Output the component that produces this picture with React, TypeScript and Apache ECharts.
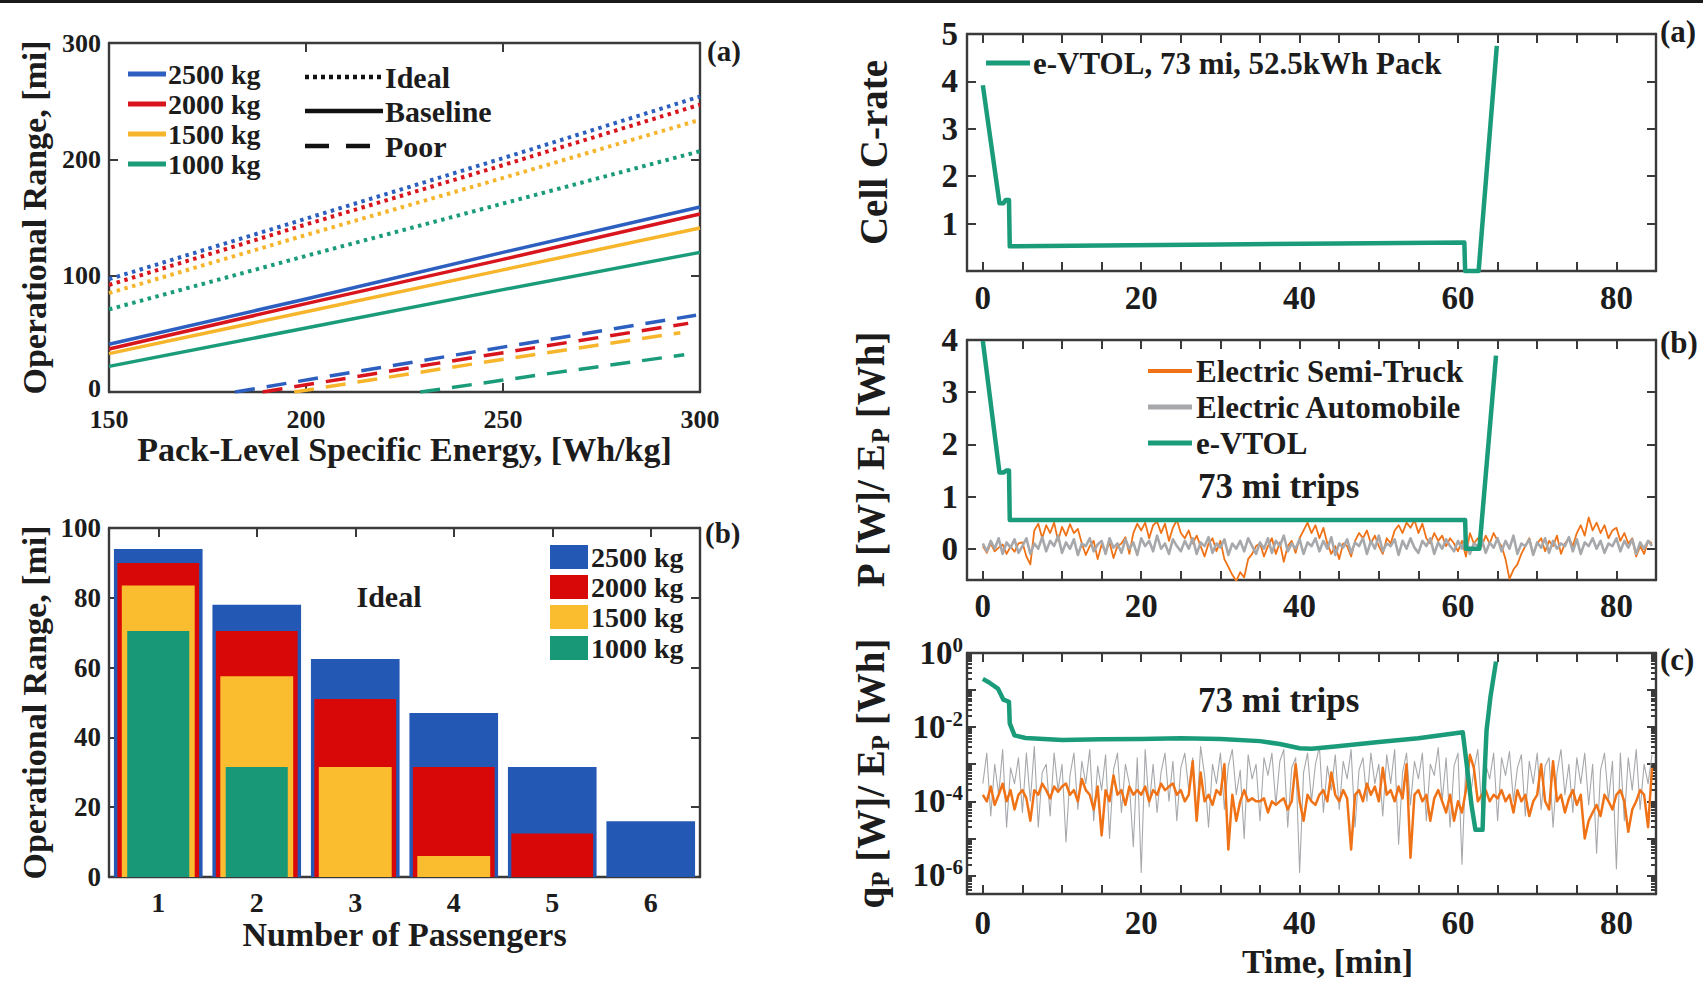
import React, { useEffect, useRef } from "react";
import * as echarts from "echarts";

const W = 1703;
const H = 982;
const SERIF = "Liberation Serif";
const INK = "#1c1c1c";
const AXC = "#3a3a3a";

const BLUE = "#2c5fbf";
const RED = "#d8141c";
const YELLOW = "#f7b52c";
const GREEN = "#1a9c7a";
const BAR_BLUE = "#2458b5";
const BAR_RED = "#d90808";
const BAR_YELLOW = "#fbbd30";
const BAR_GREEN = "#199877";
const TEAL = "#1a9c7b";
const ORANGE = "#f07216";
const GRAY = "#a6a8ab";

// ---------- Left top: range vs specific energy ----------
const energyX = [150, 200, 250, 300];
const ideal2500 = [97, 149, 201, 254];
const ideal2000 = [92, 144, 195, 247];
const ideal1500 = [85, 135, 184, 234];
const ideal1000 = [71, 117, 162, 207];
const base2500 = [41, 80, 120, 159];
const base2000 = [37, 76, 114, 153];
const base1500 = [33, 69, 105, 141];
const base1000 = [22, 55, 88, 120];
const poorX2500 = [182, 240, 299];
const poor2500 = [0, 33, 66];
const poorX2000 = [189, 243, 297];
const poor2000 = [0, 30, 59];
const poorX1500 = [197, 246, 295];
const poor1500 = [0, 26, 51];
const poorX1000 = [229, 262, 296];
const poor1000 = [0, 16, 32];
const massLabels = ["2500 kg", "2000 kg", "1500 kg", "1000 kg"];
const styleLabels = ["Ideal", "Baseline", "Poor"];

// ---------- Left bottom: range vs passengers ----------
const passengers = ["1", "2", "3", "4", "5", "6"];
const bar2500 = [94, 78, 62.5, 47, 31.5, 16];
const bar2000 = [90, 70.5, 51, 31.5, 12.5, null];
const bar1500 = [83.5, 57.5, 31.5, 6, null, null];
const bar1000 = [70.5, 31.5, null, null, null, null];

// ---------- Right (a): cell C-rate ----------
const tCrate = [0, 2.1, 2.6, 2.9, 3.3, 3.4, 15, 30, 45, 60.8, 60.9, 62.6, 64.9];
const crate = [3.92, 1.43, 1.43, 1.5, 1.5, 0.52, 0.54, 0.56, 0.58, 0.6, 0, 0, 4.75];

// ---------- Right (b): normalised power ----------
const tPower = [0, 2.1, 2.6, 3.0, 3.3, 3.4, 60.9, 61.0, 62.7, 64.8];
const vtolPower = [3.98, 1.46, 1.46, 1.5, 1.5, 0.55, 0.55, 0, 0, 3.7];
const NOISE_STEP = 0.5; // minutes between samples of the truck / automobile traces
const truckPower = [
  0.05, -0.08, 0.1, -0.05, 0.02, 0.08, -0.1, 0.04, -0.06, 0.1,
  0.12, -0.15, -0.3, 0.35, 0.48, 0.2, 0.45, 0.3, 0.5, 0.15,
  0.42, 0.25, 0.47, 0.3, 0.38, 0.1, -0.12, 0.05, 0.15, -0.2,
  0.08, -0.05, 0.12, -0.18, 0.05, 0.1, 0.22, -0.1, 0.3, 0.48,
  0.35, 0.5, 0.2, 0.45, 0.52, 0.3, 0.48, 0.15, 0.4, 0.55,
  0.3, 0.2, 0.35, 0.1, 0.25, 0.05, -0.15, 0.1, 0.2, -0.05,
  0.15, -0.2, -0.35, -0.5, -0.62, -0.45, -0.55, -0.2, -0.1, 0.05,
  0.1, -0.15, 0.05, 0.2, -0.1, 0.12, -0.25, 0.05, 0.15, -0.08,
  0.2, 0.35, 0.5, 0.3, 0.45, 0.2, 0.4, 0.1, -0.1, 0.05,
  -0.2, 0.1, 0.05, -0.15, 0.15, 0.3, 0.2, 0.35, 0.1, 0.25,
  0.05, -0.1, 0.2, 0.1, 0.35, 0.45, 0.3, 0.5, 0.4, 0.55,
  0.3, 0.48, 0.2, 0.1, 0.3, 0.15, 0.25, 0.05, 0.2, 0.1,
  -0.05, 0.15, -0.15, 0.3, 0.1, 0.2, 0.05, 0.25, 0.1, 0.3,
  0.15, 0.05, -0.2, -0.58, -0.4, -0.3, -0.1, 0.05, 0.2, -0.1,
  0.1, 0.2, -0.05, 0.15, 0.05, 0.25, -0.1, 0.1, 0.2, 0.05,
  0.3, 0.45, 0.25, 0.6, 0.35, 0.5, 0.3, 0.45, 0.2, 0.35,
  0.4, 0.15, 0.3, 0.1, 0.2, -0.15, 0.05, -0.1, 0.15, 0.1,
];
const carPower = [
  0.1, -0.05, 0.15, 0.0, 0.2, -0.1, 0.12, 0.02, 0.18, -0.08,
  0.05, 0.2, -0.1, 0.1, 0.0, 0.22, -0.05, 0.15, 0.05, 0.25,
  -0.08, 0.12, 0.0, 0.18, -0.12, 0.1, 0.05, 0.2, -0.05, 0.08,
  0.15, -0.1, 0.2, 0.02, 0.1, -0.08, 0.18, 0.0, 0.12, -0.12,
  0.2, 0.05, 0.15, -0.05, 0.25, 0.0, 0.1, -0.1, 0.18, 0.05,
  -0.05, 0.15, 0.0, 0.2, -0.1, 0.12, 0.05, 0.22, -0.08, 0.1,
  0.02, 0.18, -0.12, 0.1, 0.0, 0.15, -0.05, 0.2, 0.05, -0.1,
  0.12, 0.0, 0.2, -0.08, 0.15, 0.05, 0.25, -0.05, 0.1, 0.0,
  0.18, -0.1, 0.12, 0.05, 0.2, -0.05, 0.15, 0.0, 0.22, -0.12,
  0.1, 0.02, 0.18, -0.08, 0.12, 0.05, 0.2, -0.1, 0.15, 0.0,
  0.25, -0.05, 0.1, 0.05, 0.18, -0.12, 0.15, 0.0, 0.2, 0.02,
  -0.08, 0.15, 0.05, 0.2, -0.1, 0.12, 0.0, 0.18, 0.05, -0.05,
  0.15, 0.0, 0.22, -0.1, 0.1, 0.05, 0.18, -0.08, 0.12, 0.02,
  0.2, -0.05, 0.15, 0.0, 0.25, -0.1, 0.1, 0.05, 0.18, -0.12,
  0.12, 0.02, 0.2, -0.08, 0.15, 0.0, 0.1, 0.05, 0.22, -0.05,
  0.18, -0.1, 0.12, 0.05, 0.2, 0.0, 0.15, -0.08, 0.1, 0.05,
  0.2, -0.05, 0.15, 0.02, 0.18, -0.1, 0.12, 0.0, 0.15, 0.05,
];

// ---------- Right (c): heat (log scale) ----------
const tHeat = [0, 0.8, 1.9, 2.6, 3.3, 3.4, 4, 5.4, 10, 15, 20, 25, 30, 35, 37.5, 40, 41.5, 44.5, 50, 55, 60.6, 61.2, 61.7, 62.2, 63.1, 63.3, 63.6, 64.1, 64.8];
const vtolHeat = [0.2, 0.16, 0.11, 0.055, 0.048, 0.0126, 0.006, 0.0051, 0.0045, 0.0047, 0.0048, 0.005, 0.0048, 0.0042, 0.0035, 0.0027, 0.0026, 0.003, 0.004, 0.005, 0.0073, 0.00066, 0.00008, 0.000017, 0.000017, 0.0003, 0.008, 0.066, 0.59];
const truckHeat = [
  1.5e-4, 1e-4, 2.5e-4, 8e-5, 1.5e-4, 3e-4, 1e-4, 2e-4, 6e-5, 1.5e-4,
  2e-4, 1.2e-4, 3e-5, 2e-4, 1.5e-4, 3e-4, 2e-4, 1.2e-4, 2.5e-4, 1.8e-4,
  2.5e-4, 3e-4, 1.5e-4, 2e-4, 1e-4, 4e-4, 2e-4, 1.5e-4, 6e-5, 2.5e-4,
  1.2e-5, 2e-4, 1e-4, 5e-4, 1.5e-4, 2e-4, 8e-5, 2.5e-4, 1.5e-4, 2e-4,
  1.5e-4, 2.5e-4, 1e-4, 2e-4, 1.5e-4, 3e-4, 2e-4, 2.5e-4, 3e-4, 1.5e-4,
  2e-4, 1e-4, 1.5e-4, 1.2e-3, 3e-5, 6e-4, 1e-4, 1.5e-4, 8e-5, 2e-4,
  1.5e-4, 1e-3, 5e-6, 1.5e-4, 3e-5, 1e-4, 2e-4, 1e-4, 1.2e-4, 1e-4,
  1e-4, 1.2e-4, 5e-5, 1e-4, 8e-5, 1e-4, 1.2e-4, 6e-5, 1e-4, 1e-3,
  1e-4, 3e-5, 1.5e-4, 1e-4, 8e-5, 1.5e-4, 2e-4, 1e-4, 6e-4, 1.5e-4,
  1e-4, 2e-4, 1.2e-4, 5e-6, 1.5e-4, 2e-4, 1e-4, 3e-4, 1.5e-4, 2.5e-4,
  1e-4, 8e-4, 1.5e-4, 2e-4, 1e-4, 2.5e-4, 1.2e-4, 1e-3, 3e-6, 1.5e-4,
  2e-4, 1e-4, 1.5e-4, 3e-5, 1.2e-4, 2e-4, 1e-4, 5e-5, 1.5e-4, 3e-5,
  1e-4, 5e-5, 2e-4, 1.8e-3, 8e-4, 1e-4, 1.5e-4, 2e-4, 1e-4, 1.5e-4,
  1.2e-4, 2e-4, 1e-4, 1.5e-4, 5e-5, 2e-4, 1e-4, 1.5e-4, 4e-5, 1e-4,
  1.5e-4, 1e-3, 1e-4, 6e-5, 1.2e-3, 1e-4, 1.5e-4, 5e-5, 1.2e-4, 2e-4,
  8e-5, 1.5e-4, 1e-5, 3e-5, 5e-5, 8e-5, 4e-5, 1.5e-4, 1e-4, 6e-5,
  1.5e-4, 2e-4, 1e-4, 1.5e-5, 6e-5, 1e-4, 2e-4, 1.5e-4, 2e-5, 8e-4,
];
const carHeat = [
  3e-4, 2e-3, 4e-5, 1e-3, 1.5e-4, 2.5e-3, 2e-5, 8e-4, 3e-4, 1.5e-3,
  5e-5, 2e-3, 1e-4, 3e-3, 2e-5, 6e-4, 1e-3, 4e-5, 2e-3, 2e-4,
  1e-3, 8e-6, 5e-4, 2e-3, 6e-5, 1.2e-3, 3e-4, 2.5e-3, 3e-5, 9e-4,
  2e-4, 1.8e-3, 1e-5, 7e-4, 2e-3, 5e-5, 1e-3, 3e-4, 6e-6, 1.5e-3,
  1.2e-6, 2.5e-3, 7e-5, 1e-3, 5e-5, 6e-4, 2e-3, 1e-4, 1.2e-3, 3e-5,
  8e-4, 2e-3, 2e-4, 1.5e-3, 4e-5, 3e-3, 5e-4, 2e-5, 1e-3, 3e-4,
  2e-3, 6e-5, 9e-4, 2.5e-3, 1.5e-4, 7e-4, 1e-5, 1.8e-3, 4e-4, 1e-3,
  3e-5, 1.5e-3, 5e-4, 2e-3, 8e-5, 1.2e-3, 2.5e-3, 2e-5, 8e-4, 1.5e-3,
  1.2e-6, 6e-4, 2e-3, 1e-4, 1e-3, 3e-3, 5e-5, 9e-4, 2e-4, 1.8e-3,
  6e-5, 1.2e-3, 4e-4, 2.5e-3, 2e-5, 7e-4, 1.5e-3, 1e-4, 2e-3, 3e-4,
  1e-3, 4e-5, 1.8e-3, 3e-4, 2.5e-3, 7e-6, 6e-4, 2e-3, 8e-5, 1.2e-3,
  4e-4, 2e-3, 3e-5, 1e-3, 5e-4, 2.8e-3, 1e-4, 1.5e-3, 2e-5, 9e-4,
  2e-3, 2e-6, 1.2e-3, 1e-4, 7e-4, 2.5e-3, 6e-5, 1e-3, 4e-4, 2e-3,
  3e-5, 1.5e-3, 5e-4, 2.2e-3, 1e-4, 8e-4, 1.8e-3, 4e-5, 1.2e-3, 3e-4,
  2e-3, 6e-5, 9e-4, 1.5e-3, 2e-5, 6e-4, 2.5e-3, 1.5e-4, 1e-3, 5e-5,
  1.5e-3, 3e-4, 2e-3, 8e-5, 1e-3, 4e-6, 7e-4, 2e-3, 1e-4, 1.2e-3,
  1.5e-6, 2e-3, 3e-5, 1.5e-3, 2e-4, 2.5e-3, 6e-5, 1e-3, 3e-4, 1.8e-3,
];
const powerLegend = ["Electric Semi-Truck", "Electric Automobile", "e-VTOL"];

// ---------- tick positions ----------
const timeTicks: number[] = [];
for (let v = 0; v <= 85; v += 5) timeTicks.push(v);
const timeLabels = [0, 20, 40, 60, 80];
const decadeTicks = [-6, -5, -4, -3, -2, -1, 0];
const decadeLabels = [-6, -4, -2, 0];
const minorLogTicks: number[] = [];
for (let n = -7; n < 0; n++) {
  for (let k = 2; k <= 9; k++) {
    const v = n + Math.log10(k);
    if (v > -6.5 && v < 0) minorLogTicks.push(v);
  }
}

const lineCommon = { show: true, onZero: false, lineStyle: { color: AXC, width: 2.4 } };
const tickCommon = { show: true, inside: true, length: 9, lineStyle: { color: AXC, width: 2 } };
const fontBase = { fontFamily: SERIF, fontWeight: "bold" as const, color: INK };

function vAxis(o: any) {
  return {
    type: "value",
    gridIndex: o.grid,
    position: o.pos,
    min: o.min,
    max: o.max,
    axisLine: o.noLine ? { show: false, onZero: false } : lineCommon,
    axisTick: o.ticks
      ? { ...tickCommon, length: o.tickLen ?? 9, customValues: o.ticks }
      : { show: false },
    axisLabel: o.labels
      ? {
          show: true,
          ...fontBase,
          fontSize: o.size,
          lineHeight: o.lh,
          margin: o.margin,
          customValues: o.labels,
          formatter: o.fmt,
          rich: o.rich,
        }
      : { show: false },
    splitLine: { show: false },
    name: o.name,
    nameLocation: "middle",
    nameGap: o.gap,
    nameTextStyle: o.name
      ? { ...fontBase, fontSize: o.nameSize, rich: o.nameRich, padding: o.namePad }
      : undefined,
  };
}

function catAxis(o: any) {
  return {
    type: "category",
    gridIndex: o.grid,
    position: o.pos,
    data: passengers,
    boundaryGap: true,
    axisLine: o.showLine ? lineCommon : { show: false, onZero: false },
    axisTick: o.ticks ? { ...tickCommon, alignWithLabel: true } : { show: false },
    axisLabel: o.labels ? { show: true, ...fontBase, fontSize: 28, margin: 11 } : { show: false },
    splitLine: { show: false },
    name: o.name,
    nameLocation: "middle",
    nameGap: o.gap,
    nameTextStyle: o.name ? { ...fontBase, fontSize: 34 } : undefined,
  };
}

const subRich = {
  n: { ...fontBase, fontSize: 39, lineHeight: 46 },
  s: { ...fontBase, fontSize: 25, lineHeight: 16, verticalAlign: "bottom" },
};
const supRich = {
  b: { ...fontBase, fontSize: 33, lineHeight: 38 },
  s: { ...fontBase, fontSize: 21, lineHeight: 16, verticalAlign: "top" },
};
// the "0" at the corner of panel (a) is lifted a little so it clears the "150" below it
const cornerRich = {
  z: { ...fontBase, fontSize: 26, lineHeight: 22, padding: [0, 0, 8, 0] },
};

function lineSeries(xi: number, yi: number, data: any[], color: string, width: number, dash?: any, z = 2, clip = true) {
  return {
    type: "line",
    xAxisIndex: xi,
    yAxisIndex: yi,
    data,
    showSymbol: false,
    symbol: "none",
    silent: true,
    clip,
    z,
    lineStyle: { color, width, type: dash || "solid", cap: "butt", join: "round" },
  };
}

function pairs(xs: number[], ys: number[]) {
  return xs.map((x, i) => [x, ys[i]]);
}

function buildOption() {
  const DOT = [3.5, 4.5];
  const DASH = [20, 12];
  const noiseT = (i: number) => i * NOISE_STEP;

  const series: any[] = [
    // top-left
    lineSeries(0, 0, pairs(energyX, ideal1000), GREEN, 4, DOT),
    lineSeries(0, 0, pairs(energyX, ideal1500), YELLOW, 4, DOT),
    lineSeries(0, 0, pairs(energyX, ideal2000), RED, 4, DOT),
    lineSeries(0, 0, pairs(energyX, ideal2500), BLUE, 4, DOT),
    lineSeries(0, 0, pairs(energyX, base1000), GREEN, 3.5),
    lineSeries(0, 0, pairs(energyX, base1500), YELLOW, 3.5),
    lineSeries(0, 0, pairs(energyX, base2000), RED, 3.5),
    lineSeries(0, 0, pairs(energyX, base2500), BLUE, 3.5),
    lineSeries(0, 0, pairs(poorX1000, poor1000), GREEN, 3.5, DASH),
    lineSeries(0, 0, pairs(poorX1500, poor1500), YELLOW, 3.5, DASH),
    lineSeries(0, 0, pairs(poorX2000, poor2000), RED, 3.5, DASH),
    lineSeries(0, 0, pairs(poorX2500, poor2500), BLUE, 3.5, DASH),
    // bottom-left bars
    { type: "bar", xAxisIndex: 2, yAxisIndex: 2, data: bar2500, barWidth: "90%", itemStyle: { color: BAR_BLUE }, silent: true, z: 2 },
    { type: "bar", xAxisIndex: 3, yAxisIndex: 2, data: bar2000, barWidth: "83%", itemStyle: { color: BAR_RED }, silent: true, z: 3 },
    { type: "bar", xAxisIndex: 4, yAxisIndex: 2, data: bar1500, barWidth: "74%", itemStyle: { color: BAR_YELLOW }, silent: true, z: 4 },
    { type: "bar", xAxisIndex: 5, yAxisIndex: 2, data: bar1000, barWidth: "63%", itemStyle: { color: BAR_GREEN }, silent: true, z: 5 },
    // right (a)
    lineSeries(7, 4, pairs(tCrate, crate), TEAL, 4.5, undefined, 3, false),
    // right (b)
    lineSeries(9, 6, truckPower.map((v, i) => [noiseT(i), v]), ORANGE, 1.8),
    lineSeries(9, 6, carPower.map((v, i) => [noiseT(i), v]), GRAY, 2.6),
    lineSeries(9, 6, pairs(tPower, vtolPower), TEAL, 4.5, undefined, 3, false),
    // right (c)
    lineSeries(11, 8, carHeat.map((v, i) => [noiseT(i), Math.log10(v)]), GRAY, 1.1),
    lineSeries(11, 8, truckHeat.map((v, i) => [noiseT(i), Math.log10(v)]), ORANGE, 2.5),
    lineSeries(11, 8, tHeat.map((t, i) => [t, Math.log10(vtolHeat[i])]), TEAL, 4.5, undefined, 3, false),
  ];

  const xAxis = [
    vAxis({ grid: 0, pos: "bottom", min: 150, max: 300, ticks: [200, 250], labels: [150, 200, 250, 300], size: 26, lh: 22, margin: 16, name: "Pack-Level Specific Energy, [Wh/kg]", nameSize: 34, gap: 36 }),
    vAxis({ grid: 0, pos: "top", min: 150, max: 300, ticks: [200, 250] }),
    catAxis({ grid: 1, pos: "bottom", showLine: true, labels: true, ticks: true, name: "Number of Passengers", gap: 40 }),
    catAxis({ grid: 1, pos: "bottom" }),
    catAxis({ grid: 1, pos: "bottom" }),
    catAxis({ grid: 1, pos: "bottom" }),
    catAxis({ grid: 1, pos: "top", showLine: true, ticks: true }),
    vAxis({ grid: 2, pos: "bottom", min: -2, max: 85, ticks: timeTicks, labels: timeLabels, size: 33, margin: 10 }),
    vAxis({ grid: 2, pos: "top", min: -2, max: 85, ticks: timeTicks }),
    vAxis({ grid: 3, pos: "bottom", min: -2, max: 85, ticks: timeTicks, labels: timeLabels, size: 33, margin: 9 }),
    vAxis({ grid: 3, pos: "top", min: -2, max: 85, ticks: timeTicks }),
    vAxis({ grid: 4, pos: "bottom", min: -2, max: 85, ticks: timeTicks, labels: timeLabels, size: 33, margin: 12, name: "Time, [min]", nameSize: 34, namePad: [0, 0, 0, 32], gap: 50 }),
    vAxis({ grid: 4, pos: "top", min: -2, max: 85, ticks: timeTicks }),
  ];

  const yAxis = [
    vAxis({
      grid: 0, pos: "left", min: 0, max: 300, ticks: [100, 200], labels: [0, 100, 200, 300], size: 26, lh: 22, margin: 8,
      fmt: (v: number) => (v === 0 ? "{z|0}" : String(v)), rich: cornerRich,
      name: "Operational Range, [mi]", nameSize: 34, gap: 58,
    }),
    vAxis({ grid: 0, pos: "right", min: 0, max: 300, ticks: [100, 200] }),
    vAxis({ grid: 1, pos: "left", min: 0, max: 100, ticks: [20, 40, 60, 80], labels: [0, 20, 40, 60, 80, 100], size: 27, lh: 22, margin: 8, name: "Operational Range, [mi]", nameSize: 34, gap: 58 }),
    vAxis({ grid: 1, pos: "right", min: 0, max: 100, ticks: [20, 40, 60, 80] }),
    vAxis({ grid: 2, pos: "left", min: 0, max: 5, ticks: [1, 2, 3, 4], labels: [1, 2, 3, 4, 5], size: 33, margin: 9, name: "Cell C-rate", nameSize: 39, gap: 74 }),
    vAxis({ grid: 2, pos: "right", min: 0, max: 5, ticks: [1, 2, 3, 4] }),
    vAxis({ grid: 3, pos: "left", min: -0.6, max: 4, ticks: [0, 1, 2, 3], labels: [0, 1, 2, 3, 4], size: 33, margin: 9, name: "{n|P [W]/ E}{s|P}{n| [Wh]}", nameSize: 39, nameRich: subRich, gap: 74 }),
    vAxis({ grid: 3, pos: "right", min: -0.6, max: 4, ticks: [0, 1, 2, 3] }),
    vAxis({
      grid: 4, pos: "left", min: -6.5, max: 0, ticks: decadeTicks, labels: decadeLabels, size: 33, margin: 4,
      fmt: (v: number) => `{b|10}{s|${v}}`, rich: supRich,
      name: "{n|q}{s|P}{n| [W]/ E}{s|P}{n| [Wh]}", nameSize: 39, nameRich: subRich, gap: 74,
    }),
    vAxis({ grid: 4, pos: "right", min: -6.5, max: 0, ticks: decadeTicks }),
    vAxis({ grid: 4, pos: "left", min: -6.5, max: 0, ticks: minorLogTicks, tickLen: 5, noLine: true }),
    vAxis({ grid: 4, pos: "right", min: -6.5, max: 0, ticks: minorLogTicks, tickLen: 5, noLine: true }),
  ];

  const txt = (x: number, y: number, text: string, size: number, align = "left") => ({
    type: "text",
    x,
    y,
    z: 10,
    silent: true,
    style: { text, fontFamily: SERIF, fontWeight: "bold", fontSize: size, fill: INK, align, verticalAlign: "middle" },
  });
  const seg = (x1: number, y1: number, x2: number, y2: number, stroke: string, lineWidth: number, lineDash?: number[]) => ({
    type: "line",
    z: 10,
    silent: true,
    shape: { x1, y1, x2, y2 },
    style: { stroke, lineWidth, lineDash },
  });
  const box = (x: number, y: number, w: number, h: number, fill: string) => ({
    type: "rect",
    z: 10,
    silent: true,
    shape: { x, y, width: w, height: h },
    style: { fill },
  });

  const massColors = [BLUE, RED, YELLOW, GREEN];
  const barColors = [BAR_BLUE, BAR_RED, BAR_YELLOW, BAR_GREEN];
  const massRows = [74, 104, 134, 164];
  const styleRows = [77, 111, 146];
  const barRows = [545, 575, 605, 636];
  const powerRows = [371, 407, 443];
  const powerColors = [ORANGE, GRAY, TEAL];
  const powerWidths = [4, 5, 5];

  const graphic: any[] = [
    box(0, 0, W, 3, "#1a1a1a"),
    ...massLabels.flatMap((m, i) => [seg(128, massRows[i], 166, massRows[i], massColors[i], 5), txt(168, massRows[i], m, 28)]),
    seg(305, styleRows[0], 383, styleRows[0], "#111", 4.5, [4, 4]),
    seg(305, styleRows[1], 383, styleRows[1], "#111", 4.5),
    seg(305, styleRows[2], 370, styleRows[2], "#111", 4.5, [24, 17]),
    ...styleLabels.map((s, i) => txt(385, styleRows[i], s, 30)),
    txt(707, 51, "(a)", 29),
    ...massLabels.flatMap((m, i) => [box(550, barRows[i], 38, 24, barColors[i]), txt(591, barRows[i] + 12, m, 28)]),
    txt(389, 596, "Ideal", 30, "center"),
    txt(705, 533, "(b)", 29),
    seg(986, 63, 1030, 63, TEAL, 5),
    txt(1033, 63, "e-VTOL, 73 mi, 52.5kWh Pack", 31),
    ...powerLegend.flatMap((p, i) => [seg(1148, powerRows[i], 1192, powerRows[i], powerColors[i], powerWidths[i]), txt(1196, powerRows[i], p, 31)]),
    txt(1198, 486, "73 mi trips", 35),
    txt(1198, 700, "73 mi trips", 35),
    txt(1660, 31, "(a)", 31),
    txt(1660, 342, "(b)", 31),
    txt(1660, 659, "(c)", 31),
  ];

  const grids = [
    { left: 109, top: 43, width: 591, height: 349 },
    { left: 109, top: 528, width: 591, height: 349 },
    { left: 967, top: 34, width: 689, height: 237 },
    { left: 967, top: 340, width: 689, height: 240 },
    { left: 967, top: 653, width: 689, height: 241 },
  ].map((g) => ({ ...g, containLabel: false, outerBoundsMode: "none" }));

  return {
    animation: false,
    backgroundColor: "#ffffff",
    textStyle: { fontFamily: SERIF },
    grid: grids,
    xAxis,
    yAxis,
    series,
    graphic,
  };
}

export default function App() {
  const ref = useRef<HTMLDivElement>(null);
  useEffect(() => {
    const chart = echarts.init(ref.current as HTMLDivElement, null, { renderer: "svg" });
    chart.setOption(buildOption() as any);
    return () => chart.dispose();
  }, []);
  return (
    <div
      ref={ref}
      style={{ position: "fixed", left: 0, top: 0, width: W, height: H, background: "#fff" }}
    />
  );
}
